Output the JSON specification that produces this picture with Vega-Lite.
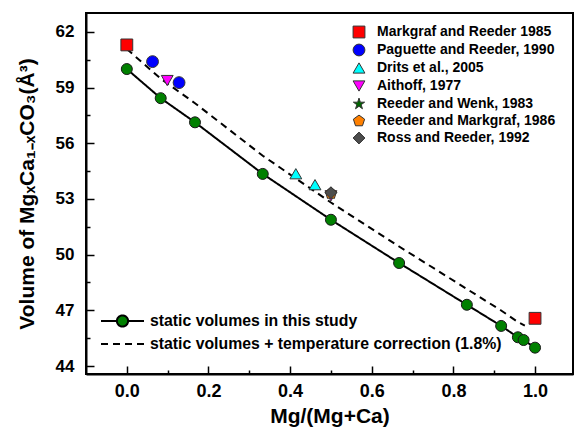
{
  "$schema": "https://vega.github.io/schema/vega-lite/v6.json",
  "width": 487,
  "height": 361,
  "autosize": {"type": "none"},
  "padding": {"left": 86, "top": 13, "right": 1, "bottom": 58},
  "background": "white",
  "config": {
    "view": {"stroke": "black", "strokeWidth": 2},
    "font": "Liberation Sans"
  },
  "datasets": {
    "lines": [
      {"x": 0, "y": 60.0, "series": "static volumes in this study"},
      {"x": 0.083, "y": 58.43, "series": "static volumes in this study"},
      {"x": 0.167, "y": 57.13, "series": "static volumes in this study"},
      {"x": 0.333, "y": 54.35, "series": "static volumes in this study"},
      {"x": 0.5, "y": 51.88, "series": "static volumes in this study"},
      {"x": 0.667, "y": 49.55, "series": "static volumes in this study"},
      {"x": 0.833, "y": 47.3, "series": "static volumes in this study"},
      {"x": 0.917, "y": 46.16, "series": "static volumes in this study"},
      {"x": 0.958, "y": 45.55, "series": "static volumes in this study"},
      {"x": 0.972, "y": 45.4, "series": "static volumes in this study"},
      {"x": 1.0, "y": 44.99, "series": "static volumes in this study"},
      {"x": 0, "y": 61.08, "series": "static volumes + temperature correction (1.8%)"},
      {"x": 0.083, "y": 59.48, "series": "static volumes + temperature correction (1.8%)"},
      {"x": 0.167, "y": 58.16, "series": "static volumes + temperature correction (1.8%)"},
      {"x": 0.333, "y": 55.33, "series": "static volumes + temperature correction (1.8%)"},
      {"x": 0.5, "y": 52.81, "series": "static volumes + temperature correction (1.8%)"},
      {"x": 0.667, "y": 50.44, "series": "static volumes + temperature correction (1.8%)"},
      {"x": 0.833, "y": 48.15, "series": "static volumes + temperature correction (1.8%)"},
      {"x": 0.917, "y": 46.99, "series": "static volumes + temperature correction (1.8%)"},
      {"x": 0.958, "y": 46.37, "series": "static volumes + temperature correction (1.8%)"},
      {"x": 0.975, "y": 46.18, "series": "static volumes + temperature correction (1.8%)"}
    ],
    "study": [
      {"x": 0, "y": 60.0},
      {"x": 0.083, "y": 58.43},
      {"x": 0.167, "y": 57.13},
      {"x": 0.333, "y": 54.35},
      {"x": 0.5, "y": 51.88},
      {"x": 0.667, "y": 49.55},
      {"x": 0.833, "y": 47.3},
      {"x": 0.917, "y": 46.16},
      {"x": 0.958, "y": 45.55},
      {"x": 0.972, "y": 45.4},
      {"x": 1.0, "y": 44.99}
    ],
    "lit": [
      {"x": 0, "y": 61.3, "source": "Markgraf and Reeder 1985"},
      {"x": 1.0, "y": 46.57, "source": "Markgraf and Reeder 1985"},
      {"x": 0.063, "y": 60.4, "source": "Paguette and Reeder, 1990"},
      {"x": 0.128, "y": 59.27, "source": "Paguette and Reeder, 1990"},
      {"x": 0.414, "y": 54.36, "source": "Drits et al., 2005"},
      {"x": 0.461, "y": 53.77, "source": "Drits et al., 2005"},
      {"x": 0.099, "y": 59.38, "source": "Aithoff, 1977"},
      {"x": 0.5, "y": 53.17, "source": "Aithoff, 1977"},
      {"x": 0.5, "y": 53.3, "source": "Reeder and Wenk, 1983"},
      {"x": 0.5, "y": 53.3, "source": "Reeder and Markgraf, 1986"},
      {"x": 0.5, "y": 53.34, "source": "Ross and Reeder, 1992"}
    ]
  },
  "resolve": {"axis": {"x": "independent", "y": "independent"}},
  "layer": [
    {
      "data": {"name": "lines"},
      "mark": {"type": "line", "color": "black", "strokeWidth": 2},
      "encoding": {
        "x": {
          "field": "x", "type": "quantitative",
          "scale": {"domain": [-0.1, 1.093], "nice": false, "zero": false},
          "axis": {
            "orient": "bottom",
            "title": "Mg/(Mg+Ca)",
            "values": [0, 0.2, 0.4, 0.6, 0.8, 1.0],
            "format": ".1f",
            "tickSize": -8,
            "tickColor": "black", "tickWidth": 1.5,
            "domainColor": "black", "domainWidth": 2,
            "grid": false,
            "labelFont": "Liberation Sans", "labelFontWeight": "bold", "labelFontSize": 18, "labelColor": "black",
            "labelPadding": 16,
            "titleFont": "Liberation Sans", "titleFontWeight": "bold", "titleFontSize": 21, "titleColor": "black",
            "titlePadding": 5
          }
        },
        "y": {
          "field": "y", "type": "quantitative",
          "scale": {"domain": [43.57, 63.02], "nice": false, "zero": false},
          "axis": {
            "orient": "left",
            "title": "Volume of MgₓCa₁₋ₓCO₃(Å³)",
            "values": [44, 47, 50, 53, 56, 59, 62],
            "format": "d",
            "tickSize": -8,
            "tickColor": "black", "tickWidth": 1.5,
            "domainColor": "black", "domainWidth": 2,
            "grid": false,
            "labelFont": "Liberation Sans", "labelFontWeight": "bold", "labelFontSize": 17, "labelColor": "black",
            "labelPadding": 20,
            "titleFont": "Liberation Sans", "titleFontWeight": "bold", "titleFontSize": 21, "titleColor": "black",
            "titlePadding": 18
          }
        },
        "strokeDash": {
          "field": "series", "type": "nominal",
          "scale": {
            "domain": ["static volumes in this study", "static volumes + temperature correction (1.8%)"],
            "range": [[1, 0], [7, 5]]
          },
          "legend": {
            "orient": "none", "legendX": 14, "legendY": 298,
            "title": null,
            "symbolSize": 1849,
            "clipHeight": 20,
            "rowPadding": 3,
            "labelOffset": 5,
            "labelFont": "Liberation Sans", "labelFontWeight": "bold", "labelFontSize": 15.8, "labelColor": "black",
            "labelLimit": 450,
            "symbolStrokeColor": "black",
            "symbolStrokeWidth": 2,
            "encode": {
              "symbols": {
                "update": {
                  "shape": {"signal": "datum.value === 'static volumes in this study' ? 'M-1,0H-0.26M0.26,0H1M0.26,0A0.26,0.26,0,1,1,-0.26,0A0.26,0.26,0,1,1,0.26,0Z' : 'M-1,0H1'"},
                  "fill": {"signal": "datum.value === 'static volumes in this study' ? '#008000' : 'transparent'"},
                  "stroke": {"value": "black"},
                  "strokeWidth": {"value": 2}
                }
              }
            }
          }
        }
      }
    },
    {
      "data": {"name": "study"},
      "mark": {"type": "point", "filled": true, "fill": "#008000", "stroke": "#1a1a1a", "strokeWidth": 1, "size": 121, "opacity": 1},
      "encoding": {
        "x": {
          "field": "x", "type": "quantitative",
          "scale": {"domain": [-0.1, 1.093], "nice": false, "zero": false},
          "axis": {
            "orient": "bottom",
            "title": null,
            "values": [0.1, 0.3, 0.5, 0.7, 0.9],
            "labels": false,
            "domain": false,
            "grid": false,
            "tickSize": -4,
            "tickColor": "black", "tickWidth": 1.5
          }
        },
        "y": {
          "field": "y", "type": "quantitative",
          "scale": {"domain": [43.57, 63.02], "nice": false, "zero": false},
          "axis": {
            "orient": "left",
            "title": null,
            "values": [45.5, 48.5, 51.5, 54.5, 57.5, 60.5],
            "labels": false,
            "domain": false,
            "grid": false,
            "tickSize": -4,
            "tickColor": "black", "tickWidth": 1.5
          }
        }
      }
    },
    {
      "data": {"name": "lit"},
      "mark": {"type": "point", "filled": true, "stroke": "#333333", "strokeWidth": 1, "size": 140, "opacity": 1},
      "encoding": {
        "x": {"field": "x", "type": "quantitative", "axis": null},
        "y": {"field": "y", "type": "quantitative", "axis": null},
        "color": {
          "field": "source", "type": "nominal",
          "scale": {
            "domain": ["Markgraf and Reeder 1985", "Paguette and Reeder, 1990", "Drits et al., 2005", "Aithoff, 1977", "Reeder and Wenk, 1983", "Reeder and Markgraf, 1986", "Ross and Reeder, 1992"],
            "range": ["#ff0000", "#0000ff", "#00ffff", "#ff00ff", "#006400", "#ff8000", "#4d4d4d"]
          },
          "legend": {
            "orient": "none", "legendX": 266, "legendY": 12,
            "title": null,
            "symbolSize": 140,
            "rowPadding": 2,
            "labelOffset": 11,
            "labelFont": "Liberation Sans", "labelFontWeight": "bold", "labelFontSize": 14, "labelColor": "black",
            "labelLimit": 300,
            "symbolStrokeColor": "#333333",
            "symbolStrokeWidth": 1
          }
        },
        "shape": {
          "field": "source", "type": "nominal",
          "scale": {
            "domain": ["Markgraf and Reeder 1985", "Paguette and Reeder, 1990", "Drits et al., 2005", "Aithoff, 1977", "Reeder and Wenk, 1983", "Reeder and Markgraf, 1986", "Ross and Reeder, 1992"],
            "range": ["square", "circle", "triangle-up", "triangle-down", "M0,-1L0.2245,-0.309L0.951,-0.309L0.363,0.118L0.588,0.809L0,0.382L-0.588,0.809L-0.363,0.118L-0.951,-0.309L-0.2245,-0.309Z", "M0,-1L0.951,-0.309L0.588,0.809L-0.588,0.809L-0.951,-0.309Z", "diamond"]
          }
        }
      }
    }
  ]
}
